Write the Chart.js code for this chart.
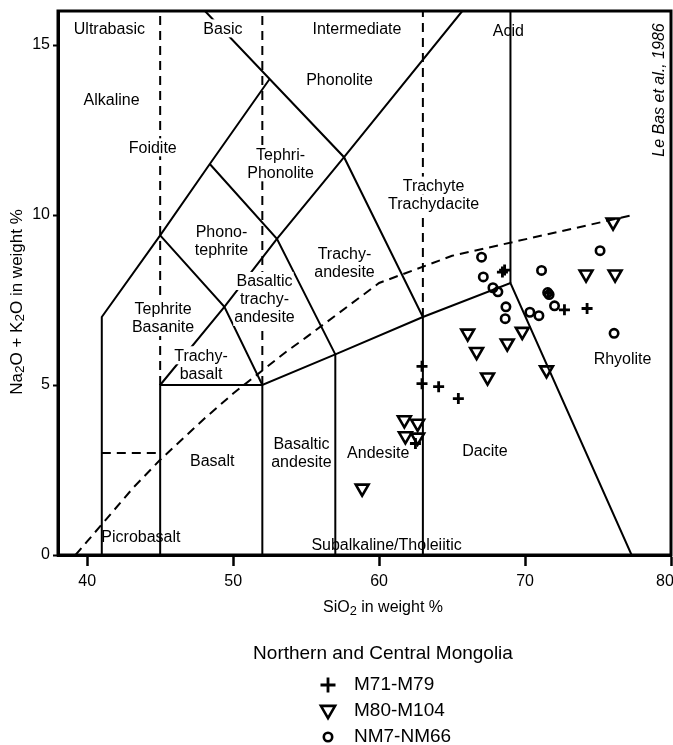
<!DOCTYPE html>
<html>
<head>
<meta charset="utf-8">
<title>TAS diagram – Northern and Central Mongolia</title>
<script src="https://cdn.jsdelivr.net/npm/chart.js@4/dist/chart.umd.min.js"></script>
<style>
  html, body { margin: 0; padding: 0; background: #fff; }
  canvas { display: block; }
</style>
</head>
<body>
<canvas id="tas" width="673" height="745"></canvas>
<script>
// ---- sample groups (SiO2 vs Na2O+K2O, wt %) ----
const seriesNames = ['M71-M79', 'M80-M104', 'NM7-NM66'];
const legendTitle = 'Northern and Central Mongolia';

const m71SiO2   = [68.45, 68.6, 71.6, 72.7, 74.25, 62.94, 62.94, 64.08, 65.43, 62.49];
const m71Alkali = [8.32, 8.38, 7.7, 7.21, 7.25, 5.55, 5.04, 4.95, 4.6, 3.28];

const m80SiO2   = [76.03, 74.18, 76.17, 66.07, 66.68, 68.78, 69.81, 67.43, 71.47, 61.73, 62.64, 61.80, 62.64, 58.84];
const m80Alkali = [9.79, 8.26, 8.26, 6.52, 5.98, 6.23, 6.57, 5.23, 5.44, 3.97, 3.87, 3.50, 3.46, 1.96];

const nm7SiO2   = [67.02, 67.14, 67.80, 68.14, 68.69, 68.64, 71.13, 70.33, 70.95, 71.55, 71.65, 72.02, 75.14, 76.10];
const nm7Alkali = [8.76, 8.18, 7.86, 7.74, 7.30, 6.95, 8.37, 7.14, 7.04, 7.72, 7.66, 7.33, 8.95, 6.52];

// ---- axis ticks ----
const xTicks = [40, 50, 60, 70, 80];
const yTicks = [0, 5, 10, 15];

// ---- TAS field boundaries (Le Bas et al., 1986), [SiO2, alkali] ----
const foiditeEdge        = [[41, 0], [41, 7], [45, 9.4], [48.4, 11.5], [52.5, 14]];
const phonoliteEdge      = [[48.07, 16], [52.5, 14], [57.6, 11.7], [63, 7], [63, 0]];
const trachyteEdge       = [[45, 5], [49.4, 7.3], [53, 9.3], [57.6, 11.7], [65.7, 16]];
const tephriteEdge       = [[45, 9.4], [49.4, 7.3], [52, 5], [57, 5.9], [63, 7], [69, 8], [77.3, 0]];
const trachyandesiteEdge = [[48.4, 11.5], [53, 9.3], [57, 5.9], [57, 0]];
const basaltEdge         = [[45, 0], [45, 5], [52, 5], [52, 0]];
const acidEdge           = [[69, 8], [69, 16]];
// dashed guides
const picrobasaltTop     = [[41, 3], [45, 3]];
const silica45           = [[45, 5], [45, 16]];
const silica52           = [[52, 5], [52, 16]];
const silica63           = [[63, 7], [63, 16]];
// alkaline / subalkaline divide (Irvine & Baragar, 1971)
const alkalineDivide     = [[39.2, 0], [40, 0.4], [43.2, 2], [45, 2.8], [48, 4], [50, 4.75],
                            [53.7, 6], [55, 6.4], [60, 8], [65, 8.8], [77.4, 10]];

// ---- field names, anchored at [SiO2, alkali]; masked ones get a white backing ----
const fieldLabels = [
  { lines: ['Ultrabasic'], at: [41.52, 15.49] },
  { lines: ['Basic'], at: [49.3, 15.49], mask: true },
  { lines: ['Intermediate'], at: [58.48, 15.49] },
  { lines: ['Acid'], at: [68.86, 15.42] },
  { lines: ['Alkaline'], at: [41.67, 13.38] },
  { lines: ['Foidite'], at: [44.49, 11.99], mask: true },
  { lines: ['Phonolite'], at: [57.29, 13.99] },
  { lines: ['Tephri-', 'Phonolite'], at: [53.25, 11.52], mask: true },
  { lines: ['Trachyte', 'Trachydacite'], at: [63.73, 10.6], mask: true },
  { lines: ['Phono-', 'tephrite'], at: [49.2, 9.25] },
  { lines: ['Trachy-', 'andesite'], at: [57.63, 8.59] },
  { lines: ['Basaltic', 'trachy-', 'andesite'], at: [52.15, 7.53], mask: true },
  { lines: ['Tephrite', 'Basanite'], at: [45.2, 6.97], mask: true },
  { lines: ['Trachy-', 'basalt'], at: [47.8, 5.61], mask: true },
  { lines: ['Basalt'], at: [48.57, 2.79] },
  { lines: ['Basaltic', 'andesite'], at: [54.68, 3.02] },
  { lines: ['Andesite'], at: [59.94, 3.02] },
  { lines: ['Dacite'], at: [67.25, 3.06] },
  { lines: ['Rhyolite'], at: [76.68, 5.79] },
  { lines: ['Picrobasalt'], at: [43.68, 0.54] },
  { lines: ['Subalkaline/Tholeiitic'], at: [60.51, 0.31] }
];
const sourceNote = 'Le Bas et al., 1986';

// ---- styling ----
const FONT = "'Liberation Sans', Arial, Helvetica, sans-serif";
Chart.defaults.font.family = FONT;
Chart.defaults.color = '#000';

const toPoints = arr => arr.map(p => ({ x: p[0], y: p[1] }));
const zip = (xs, ys) => xs.map((x, i) => ({ x: x, y: ys[i] }));

function boundary(arr, dashed) {
  return {
    data: toPoints(arr), showLine: true, pointRadius: 0, pointHoverRadius: 0,
    borderColor: '#000', borderWidth: 2, borderDash: dashed ? [9, 6] : [],
    fill: false, tension: 0, order: 2
  };
}

const MARK = {
  cross:    { radius: 5.5, rotation: 0,   width: 2.8 },
  triangle: { radius: 7.4, rotation: 180, width: 2.6 },
  circle:   { radius: 4.2, rotation: 0,   width: 2.6 }
};

function samples(label, data, style) {
  const m = MARK[style];
  return {
    label: label, data: data, showLine: false, order: 0,
    pointStyle: style, pointRadius: m.radius, pointHoverRadius: m.radius,
    pointRotation: m.rotation, pointBorderWidth: m.width,
    pointBorderColor: '#000', pointBackgroundColor: 'rgba(0,0,0,0)'
  };
}

const datasets = [
  samples(seriesNames[0], zip(m71SiO2, m71Alkali), 'cross'),
  samples(seriesNames[1], zip(m80SiO2, m80Alkali), 'triangle'),
  samples(seriesNames[2], zip(nm7SiO2, nm7Alkali), 'circle'),
  boundary(foiditeEdge), boundary(phonoliteEdge), boundary(trachyteEdge),
  boundary(tephriteEdge), boundary(trachyandesiteEdge), boundary(basaltEdge),
  boundary(acidEdge),
  boundary(picrobasaltTop, true), boundary(silica45, true), boundary(silica52, true),
  boundary(silica63, true), boundary(alkalineDivide, true)
];

// text made of normal and subscript runs
function richWidth(ctx, runs, size) {
  let w = 0;
  runs.forEach(r => { ctx.font = (r.sub ? size * 0.8 : size) + 'px ' + FONT; w += ctx.measureText(r.t).width; });
  return w;
}
function drawRich(ctx, runs, size, x, y) {
  let cx = x;
  runs.forEach(r => {
    const s = r.sub ? size * 0.8 : size;
    ctx.font = s + 'px ' + FONT;
    ctx.fillText(r.t, cx, y + (r.sub ? size * 0.22 : 0));
    cx += ctx.measureText(r.t).width;
  });
}

function drawSymbol(ctx, style, x, y) {
  const m = MARK[style];
  ctx.save();
  ctx.lineWidth = m.width;
  ctx.strokeStyle = '#000';
  ctx.beginPath();
  if (style === 'cross') {
    ctx.moveTo(x - m.radius - 2, y); ctx.lineTo(x + m.radius + 2, y);
    ctx.moveTo(x, y - m.radius - 2); ctx.lineTo(x, y + m.radius + 2);
  } else if (style === 'triangle') {
    let a = Math.PI;
    const r = m.radius + 0.8;
    ctx.moveTo(x + Math.sin(a) * r, y - Math.cos(a) * r);
    a += 2 * Math.PI / 3; ctx.lineTo(x + Math.sin(a) * r, y - Math.cos(a) * r);
    a += 2 * Math.PI / 3; ctx.lineTo(x + Math.sin(a) * r, y - Math.cos(a) * r);
    ctx.closePath();
  } else {
    ctx.arc(x, y, m.radius, 0, Math.PI * 2);
  }
  ctx.stroke();
  ctx.restore();
}

let labelsDrawn = false;
const tasDecor = {
  id: 'tasDecor',
  beforeDatasetsDraw() { labelsDrawn = false; },
  beforeDatasetDraw(chart, args) {
    // field names go above the boundaries but under the samples
    if (labelsDrawn || chart.data.datasets[args.index].order !== 0) return;
    labelsDrawn = true;
    const { ctx, scales: { x, y } } = chart;
    const size = 16, lh = 18;
    ctx.save();
    ctx.font = size + 'px ' + FONT;
    ctx.textAlign = 'center';
    ctx.textBaseline = 'middle';
    fieldLabels.forEach(f => {
      const px = x.getPixelForValue(f.at[0]);
      const py0 = y.getPixelForValue(f.at[1]) - (f.lines.length - 1) * lh / 2;
      f.lines.forEach((t, i) => {
        const py = py0 + i * lh;
        if (f.mask) {
          const w = ctx.measureText(t).width;
          ctx.fillStyle = '#fff';
          ctx.fillRect(px - w / 2 - 1, py - lh / 2, w + 2, lh);
        }
        ctx.fillStyle = '#000';
        ctx.fillText(t, px, py + 1);
      });
    });
    ctx.restore();
  },
  afterDraw(chart) {
    const { ctx, chartArea: a } = chart;
    ctx.save();
    // plot frame
    ctx.strokeStyle = '#000';
    ctx.lineWidth = 3;
    ctx.strokeRect(a.left, a.top, a.right - a.left, a.bottom - a.top);

    // source note along the right edge
    ctx.fillStyle = '#000';
    ctx.translate(659, 90);
    ctx.rotate(-Math.PI / 2);
    ctx.font = 'italic 16px ' + FONT;
    ctx.textAlign = 'center';
    ctx.textBaseline = 'middle';
    ctx.fillText(sourceNote, 0, 1);
    ctx.restore();

    // axis titles
    ctx.save();
    ctx.fillStyle = '#000';
    ctx.textBaseline = 'middle';
    ctx.textAlign = 'left';
    const xt = [{ t: 'SiO' }, { t: '2', sub: true }, { t: ' in weight %' }];
    const xw = richWidth(ctx, xt, 16);
    drawRich(ctx, xt, 16, 383 - xw / 2, 608);

    const yt = [{ t: 'Na' }, { t: '2', sub: true }, { t: 'O + K' }, { t: '2', sub: true }, { t: 'O in weight %' }];
    const yw = richWidth(ctx, yt, 17);
    ctx.translate(17, 302);
    ctx.rotate(-Math.PI / 2);
    drawRich(ctx, yt, 17, -yw / 2, 0);
    ctx.restore();

    // legend
    ctx.save();
    ctx.fillStyle = '#000';
    ctx.font = '19px ' + FONT;
    ctx.textBaseline = 'middle';
    ctx.textAlign = 'center';
    ctx.fillText(legendTitle, 383, 654);
    ctx.textAlign = 'left';
    const styles = ['cross', 'triangle', 'circle'];
    const rows = [685, 711, 737];
    seriesNames.forEach((name, i) => {
      drawSymbol(ctx, styles[i], 328, rows[i] + (styles[i] === 'triangle' ? -1 : 0));
      ctx.fillStyle = '#000';
      ctx.fillText(name, 354, rows[i]);
    });
    ctx.restore();
  }
};

new Chart(document.getElementById('tas'), {
  type: 'scatter',
  data: { datasets: datasets },
  options: {
    responsive: false,
    animation: false,
    devicePixelRatio: 1,
    layout: { autoPadding: false, padding: { left: 0, top: 11, right: 2, bottom: 150 } },
    plugins: { legend: { display: false }, tooltip: { enabled: false } },
    events: [],
    scales: {
      x: {
        type: 'linear', min: 38, max: 80,
        afterBuildTicks: s => { s.ticks = xTicks.map(v => ({ value: v })); },
        afterFit: s => { s.height = 40; s.paddingLeft = 0; s.paddingRight = 0; },
        grid: { drawOnChartArea: false, drawTicks: true, tickLength: 11, tickWidth: 2.5, tickColor: '#000' },
        border: { display: true, color: '#000', width: 3 },
        ticks: {
          font: { size: 16 }, color: '#000', padding: 6, maxRotation: 0, autoSkip: false,
          // the last label sits at the right edge, so pad it to keep it in view
          callback: v => (v === xTicks[xTicks.length - 1] ? v + '\u2007\u2009' : String(v))
        }
      },
      y: {
        type: 'linear', min: 0, max: 16,
        afterBuildTicks: s => { s.ticks = yTicks.map(v => ({ value: v })); },
        afterFit: s => { s.width = 58; s.paddingTop = 0; s.paddingBottom = 0; },
        grid: { drawOnChartArea: false, drawTicks: true, tickLength: 5, tickWidth: 2, tickColor: '#000' },
        border: { display: true, color: '#000', width: 3 },
        ticks: { font: { size: 16 }, color: '#000', padding: 3, autoSkip: false }
      }
    }
  },
  plugins: [tasDecor]
});
</script>
</body>
</html>
